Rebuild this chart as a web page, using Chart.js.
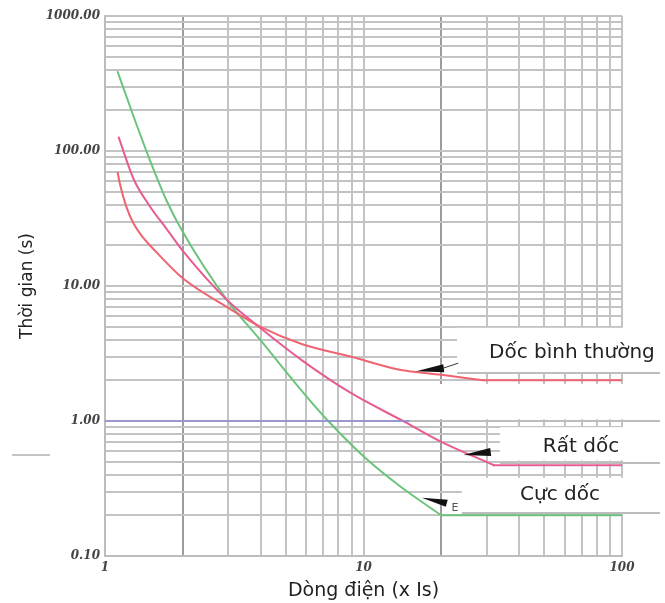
<!DOCTYPE html>
<html>
<head>
<meta charset="utf-8">
<script src="https://cdn.jsdelivr.net/npm/chart.js@4.4.0/dist/chart.umd.min.js"></script>
<style>
  body { margin: 0; background: #fff; }
  canvas { display: block; }
</style>
</head>
<body>
<canvas id="myChart" width="665" height="603"></canvas>
<script>
// values: current (x Is) -> time (s)
// curved part of each characteristic, then its flat tail
var normalX = [1.12, 1.14, 1.21, 1.29, 1.41, 1.5, 2.0, 2.96, 3.98, 5.8, 8.9, 13.8, 20, 29];
var normalY = [69, 58, 38.6, 29, 22.6, 19.8, 11.4, 7.0, 5.0, 3.7, 3.0, 2.4, 2.2, 2.0];
var normalFlatX = [29, 100];
var normalFlatY = [2.0, 2.0];

var veryX = [1.13, 1.29, 1.49, 1.73, 2.0, 2.96, 3.98, 5.8, 8.9, 14.5, 20, 32];
var veryY = [126, 62, 39, 26.5, 18.2, 7.9, 4.9, 2.8, 1.62, 0.98, 0.70, 0.47];
var veryFlatX = [32, 100];
var veryFlatY = [0.47, 0.47];

var extremeX = [1.12, 1.29, 1.49, 1.73, 1.98, 2.96, 3.98, 5.8, 7.3, 10.3, 13.8, 20];
var extremeY = [385, 180, 86, 43, 26, 7.9, 4.0, 1.65, 1.0, 0.52, 0.33, 0.2];
var extremeFlatX = [20, 100];
var extremeFlatY = [0.2, 0.2];

var refLineX = [1, 15];
var refLineY = [1, 1];

var xTickValues = [1, 10, 100];
var xTickLabels = ['1', '10', '100'];
var yTickValues = [0.1, 1, 10, 100, 1000];
var yTickLabels = ['0.10', '1.00', '10.00', '100.00', '1000.00'];

var curveNames = ['Dốc bình thường', 'Rất dốc', 'Cực dốc'];
var curveColors = ['#ee6470', '#e65c94', '#6cc47c'];

// log grid: 1..9 in each decade
function logGrid(lo, hi) {
    var out = [];
    for (var d = lo; d < hi; d *= 10) {
        for (var k = 1; k < 10; k++) out.push(Number((k * d).toPrecision(3)));
    }
    out.push(hi);
    return out;
}
var xGrid = logGrid(1, 100);
var yGrid = logGrid(0.1, 1000);

function pts(xs, ys) {
    return xs.map(function (x, i) { return { x: x, y: ys[i] }; });
}

// label boxes that hide the grid on the right: [x from, y top, y bottom]
var boxes = [[23, 4.9, 2.3], [10.4, 1.88, 1.03], [33.7, 0.9, 0.51], [24, 0.38, 0.21]];
var extLines = [[2.25, 23], [1, 15], [0.49, 33.7], [0.21, 24]];
var labelPos = [[64, 3.19], [69.4, 0.64], [57.6, 0.283]];
var arrowTips = [[16, 2.34], [24.3, 0.56], [16.8, 0.27]];

var tickFont = { family: 'DejaVu Serif', size: 12, style: 'italic', weight: 'bold' };

var decor = {
    id: 'decor',
    beforeDatasetsDraw: function (chart) {
        var ctx = chart.ctx, xs = chart.scales.x, ys = chart.scales.y, W = chart.width;
        ctx.save();
        ctx.fillStyle = '#fff';
        boxes.forEach(function (b) {
            var x0 = xs.getPixelForValue(b[0]);
            var y0 = ys.getPixelForValue(b[1]), y1 = ys.getPixelForValue(b[2]);
            ctx.fillRect(x0, y0, W - x0, y1 - y0);
        });
        ctx.fillRect(chart.chartArea.right + 1, 0, W, chart.chartArea.bottom + 2);
        ctx.strokeStyle = '#bdbdbd';
        ctx.lineWidth = 2;
        extLines.forEach(function (l) {
            var y = Math.round(ys.getPixelForValue(l[0]));
            ctx.beginPath();
            ctx.moveTo(xs.getPixelForValue(l[1]), y);
            ctx.lineTo(660, y);
            ctx.stroke();
        });
        // stray dash on the left
        ctx.strokeStyle = '#c4c4c4';
        ctx.beginPath();
        ctx.moveTo(12, 455);
        ctx.lineTo(50, 455);
        ctx.stroke();
        ctx.restore();
    },
    afterDatasetsDraw: function (chart) {
        var ctx = chart.ctx, xs = chart.scales.x, ys = chart.scales.y;
        ctx.save();
        ctx.fillStyle = '#111';
        arrowTips.forEach(function (a, i) {
            var tx = xs.getPixelForValue(a[0]), ty = ys.getPixelForValue(a[1]);
            ctx.beginPath();
            if (i === 2) {
                ctx.moveTo(tx, ty);
                ctx.lineTo(tx + 26, ty + 2);
                ctx.lineTo(tx + 24, ty + 9);
            } else {
                ctx.moveTo(tx, ty);
                ctx.lineTo(tx + 27, ty - 7);
                ctx.lineTo(tx + 28, ty + 1);
            }
            ctx.closePath();
            ctx.fill();
            if (i === 0) {
                ctx.strokeStyle = '#333';
                ctx.lineWidth = 1;
                ctx.beginPath();
                ctx.moveTo(tx + 27, ty - 3);
                ctx.lineTo(tx + 42, ty - 8);
                ctx.stroke();
            }
        });
        ctx.fillStyle = '#555';
        ctx.font = '11px "DejaVu Sans"';
        ctx.textAlign = 'center';
        ctx.textBaseline = 'middle';
        ctx.fillText('E', xs.getPixelForValue(22.6), ys.getPixelForValue(0.225));

        ctx.fillStyle = '#222';
        ctx.font = '20px "DejaVu Sans"';
        curveNames.forEach(function (t, i) {
            ctx.fillText(t, xs.getPixelForValue(labelPos[i][0]), ys.getPixelForValue(labelPos[i][1]));
        });
        ctx.restore();
    }
};

function gridColor(dark) {
    return function (c) {
        return c.tick && dark.indexOf(c.tick.value) >= 0 ? '#9c9c9c' : '#c3c3c3';
    };
}

function line(label, xs, ys, color, extra) {
    var ds = { label: label, data: pts(xs, ys), borderColor: color };
    return Object.assign(ds, extra || {});
}

var config = {
    type: 'line',
    data: {
        datasets: [
            line('ref', refLineX, refLineY, '#8c8cd4', { borderWidth: 1.5 }),
            line(curveNames[0], normalX, normalY, curveColors[0]),
            line(curveNames[0] + ' (tail)', normalFlatX, normalFlatY, curveColors[0]),
            line(curveNames[1], veryX, veryY, curveColors[1]),
            line(curveNames[1] + ' (tail)', veryFlatX, veryFlatY, curveColors[1]),
            line(curveNames[2], extremeX, extremeY, curveColors[2]),
            line(curveNames[2] + ' (tail)', extremeFlatX, extremeFlatY, curveColors[2])
        ]
    },
    options: {
        responsive: false,
        animation: false,
        devicePixelRatio: 1,
        layout: { padding: { top: 16, right: 43, left: 0, bottom: 0 } },
        plugins: { legend: { display: false }, tooltip: { enabled: false } },
        elements: {
            point: { radius: 0 },
            line: { borderWidth: 2, cubicInterpolationMode: 'monotone', borderCapStyle: 'round' }
        },
        scales: {
            x: {
                type: 'logarithmic',
                min: 1,
                max: 100,
                afterBuildTicks: function (axis) {
                    axis.ticks = xGrid.map(function (v) { return { value: v }; });
                },
                afterFit: function (axis) { axis.height = 47; },
                border: { color: '#bdbdbd', width: 2 },
                grid: { color: gridColor([2, 20]), lineWidth: 2, drawTicks: false },
                ticks: {
                    autoSkip: false,
                    maxRotation: 0,
                    padding: 5,
                    color: '#444',
                    font: tickFont,
                    callback: function (v) {
                        var i = xTickValues.indexOf(v);
                        return i < 0 ? '' : xTickLabels[i];
                    }
                },
                title: {
                    display: true,
                    text: 'Dòng điện (x Is)',
                    color: '#222',
                    font: { family: 'DejaVu Sans', size: 19 },
                    padding: { top: 0, bottom: 1 }
                }
            },
            y: {
                type: 'logarithmic',
                min: 0.1,
                max: 1000,
                afterBuildTicks: function (axis) {
                    axis.ticks = yGrid.map(function (v) { return { value: v }; });
                },
                afterFit: function (axis) { axis.width = 105; },
                border: { color: '#bdbdbd', width: 2 },
                grid: { color: gridColor([]), lineWidth: 2, drawTicks: false },
                ticks: {
                    autoSkip: false,
                    padding: 5,
                    color: '#444',
                    font: tickFont,
                    callback: function (v) {
                        var i = yTickValues.indexOf(v);
                        return i < 0 ? '' : yTickLabels[i];
                    }
                },
                title: {
                    display: true,
                    text: 'Thời gian (s)',
                    color: '#222',
                    font: { family: 'DejaVu Sans', size: 17 },
                    padding: { top: 17, bottom: 0 }
                }
            }
        }
    },
    plugins: [decor]
};

window.addEventListener('DOMContentLoaded', function () {
    var ctx = document.getElementById('myChart').getContext('2d');
    window.myLine = new Chart(ctx, config);
});
</script>
</body>
</html>
